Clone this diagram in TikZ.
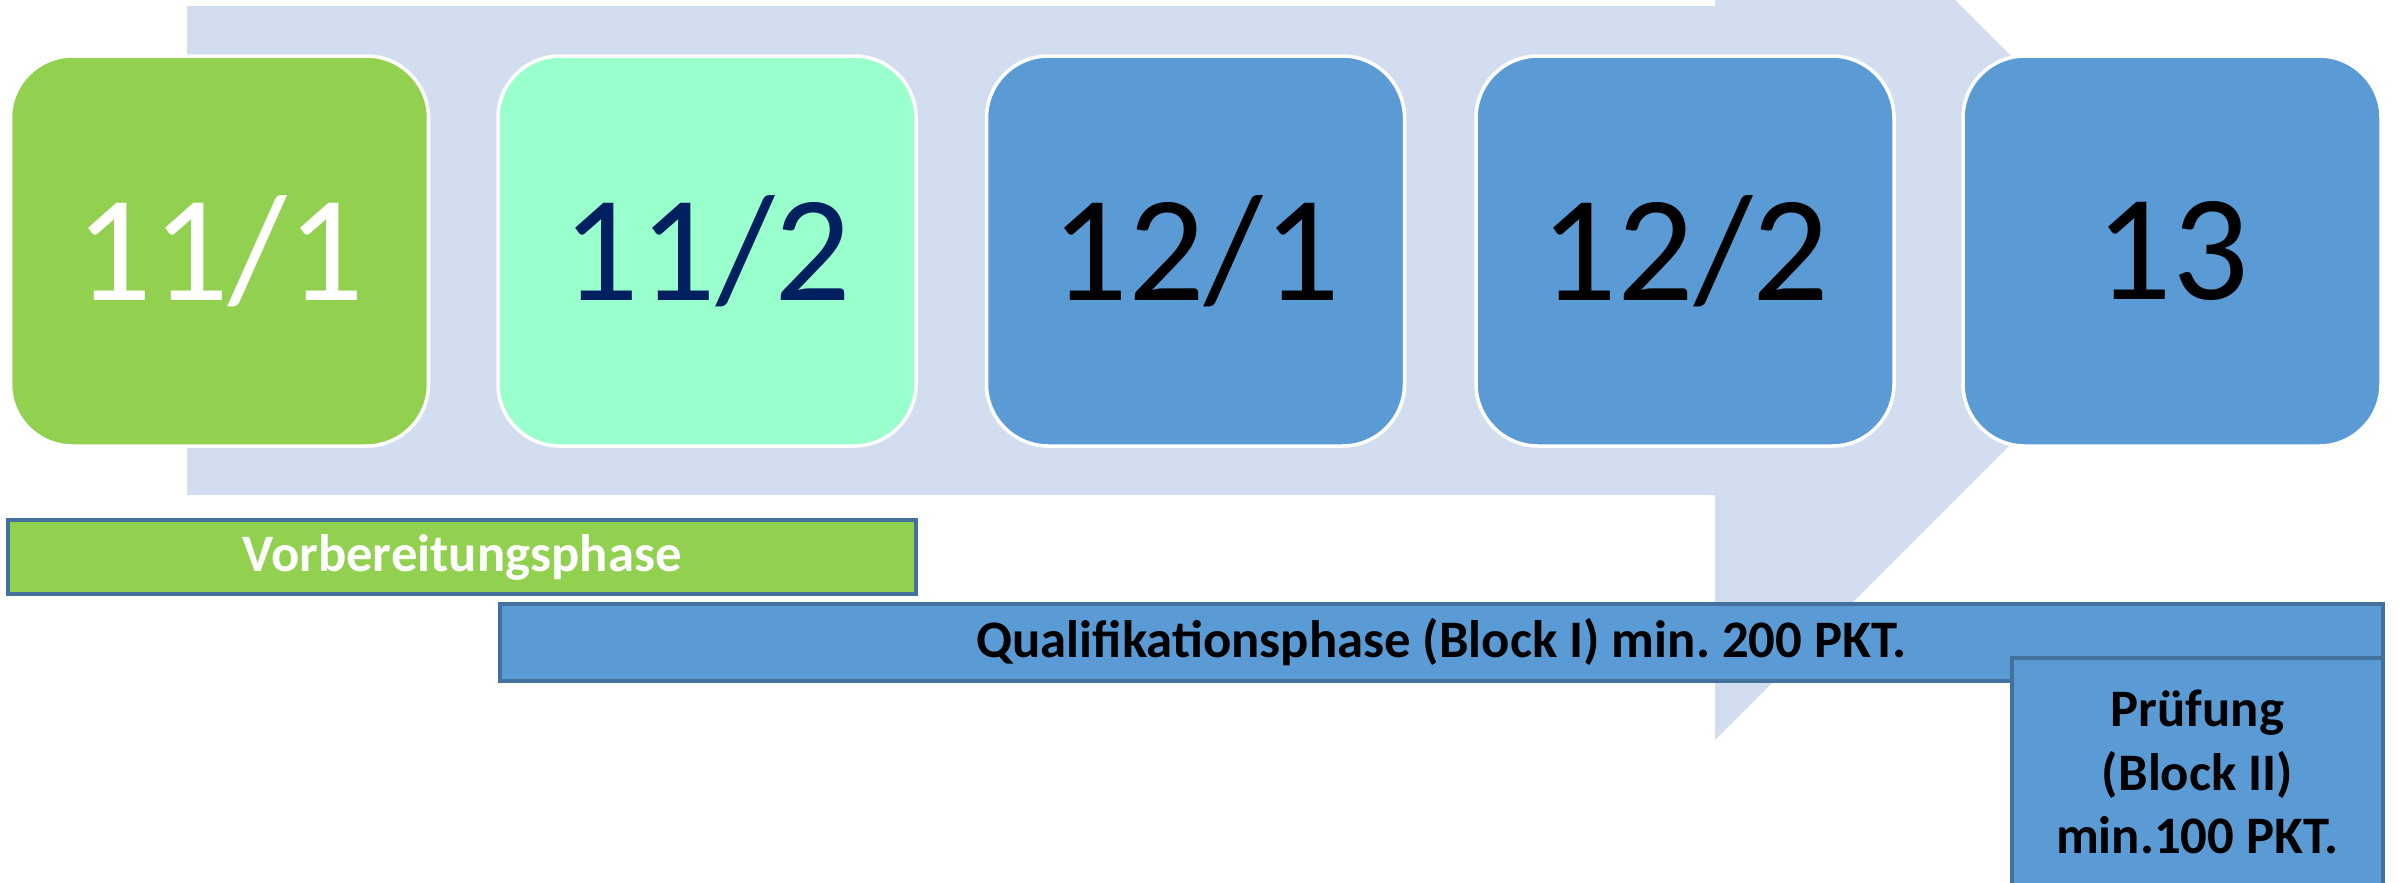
\documentclass[tikz,border=0pt]{standalone}
\usepackage{fontspec}
\setmainfont{Carlito}
\usepackage{tikz}
\frenchspacing

\definecolor{arrowbg}{HTML}{D2DEEF}
\definecolor{semgreen}{HTML}{92D050}
\definecolor{semmint}{HTML}{99FFCC}
\definecolor{semblue}{HTML}{5B9BD5}
\definecolor{barline}{HTML}{41719C}
\definecolor{navy}{HTML}{002060}

\begin{document}
\begin{tikzpicture}
        \clip (0,0) rectangle (23.99,-8.82);

        % background arrow
        \fill [arrowbg] (1.87,-0.06) -- (17.15,-0.06) -- (17.15,2.40) -- (22.05,-2.50)
              -- (17.15,-7.40) -- (17.15,-4.95) -- (1.87,-4.95) -- cycle;

        \begin{scope}[every node/.style={rounded corners=0.62cm,draw=white,line width=1pt,
                      minimum width=4.18cm,minimum height=3.9cm,font=\fontsize{43}{50}\selectfont}]
            \node (A) [fill=semgreen,text=white] at (2.195,-2.51) {11/1};
            \node (B) [fill=semmint,text=navy] at (7.07,-2.51) {11/2};
            \node (C) [fill=semblue] at (11.955,-2.51) {12/1};
            \node (D) [fill=semblue] at (16.85,-2.51) {12/2};
            \node (E) [fill=semblue] at (21.72,-2.51) {13};
        \end{scope}

        \begin{scope}[every node/.style={draw=barline,line width=1pt,inner sep=0pt,
                      font=\fontsize{15}{18}\selectfont\bfseries}]
            \node (V) [fill=semgreen,text=white,minimum width=9.08cm,minimum height=0.74cm] at (4.62,-5.57) {Vorbereitungsphase};
            \node (Q) [fill=semblue,minimum width=18.83cm,minimum height=0.77cm] at (14.415,-6.425) {Qualifikationsphase (Block I) min. 200 PKT.};
            \node (P) [fill=semblue,minimum width=3.71cm,minimum height=2.28cm,align=center] at (21.975,-7.72) {Prüfung\\(Block II)\\min.100 PKT.};
        \end{scope}
    \end{tikzpicture}
\end{document}
